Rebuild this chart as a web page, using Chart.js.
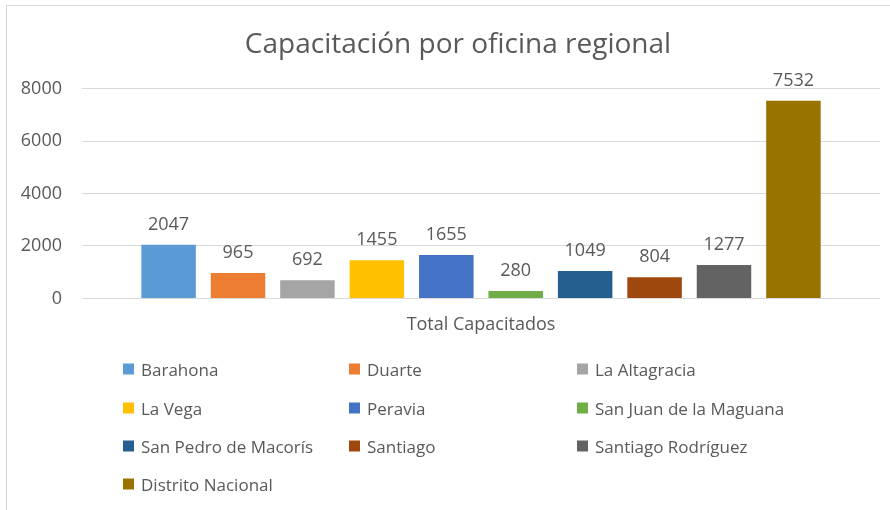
<!DOCTYPE html>
<html>
<head>
<meta charset="utf-8">
<script src="https://cdn.jsdelivr.net/npm/chart.js@4"></script>
<style>
  html, body { margin: 0; padding: 0; background: #fff; }
  #wrap { position: relative; width: 890px; height: 510px; overflow: hidden; }
  #frame { position: absolute; left: 6px; top: 5px; width: 900px; height: 520px; border: 1px solid #d9d9d9; box-sizing: border-box; }
  canvas { position: absolute; left: 0; top: 0; }
  #legend { position: absolute; left: 0; top: 0; width: 890px; height: 510px; pointer-events: none;
            font-family: "Open Sans", sans-serif; font-size: 17px; color: #595959; }
  .item { position: absolute; display: flex; align-items: center; white-space: nowrap; transform: translateY(-50%); }
  .box { width: 11px; height: 11px; margin-right: 7px; }
</style>
</head>
<body>
<div id="wrap">
  <div id="frame"></div>
  <canvas id="c" width="890" height="510"></canvas>
  <div id="legend"></div>
</div>
<script>
const categories = ["Total Capacitados"];
const seriesNames = ["Barahona", "Duarte", "La Altagracia", "La Vega", "Peravia",
  "San Juan de la Maguana", "San Pedro de Macorís", "Santiago", "Santiago Rodríguez", "Distrito Nacional"];
const seriesValues = [2047, 965, 692, 1455, 1655, 280, 1049, 804, 1277, 7532];
const seriesColors = ["#5B9BD5", "#ED7D31", "#A5A5A5", "#FFC000", "#4472C4",
  "#70AD47", "#255E91", "#9E480E", "#636363", "#997300"];
const yTicks = [0, 2000, 4000, 6000, 8000];

const textColor = "#595959";
const fontFamily = "'Open Sans', sans-serif";

const datasets = seriesNames.map((name, i) => ({
  label: name,
  data: [seriesValues[i]],
  backgroundColor: seriesColors[i],
  borderWidth: 0,
  categoryPercentage: 0.87,
  barPercentage: 0.785
}));

const valueLabels = {
  id: "valueLabels",
  afterDatasetsDraw(chart) {
    const ctx = chart.ctx;
    ctx.save();
    ctx.font = "18px " + fontFamily;
    ctx.fillStyle = textColor;
    ctx.textAlign = "center";
    ctx.textBaseline = "alphabetic";
    chart.data.datasets.forEach((ds, i) => {
      const meta = chart.getDatasetMeta(i);
      meta.data.forEach((bar, j) => {
        ctx.fillText(String(ds.data[j]), bar.x, bar.y - 15);
      });
    });
    ctx.restore();
  }
};

// shift the title block slightly right, as in the reference
const titleShift = {
  id: "titleShift",
  afterLayout(chart) {
    const t = chart.titleBlock;
    if (t) { t.left += 18; t.right += 18; }
  }
};

const chart = new Chart(document.getElementById("c"), {
  type: "bar",
  data: { labels: categories, datasets: datasets },
  options: {
    responsive: false,
    animation: false,
    layout: { padding: { left: 0, right: 10, top: 0, bottom: 158 } },
    plugins: {
      legend: { display: false },
      tooltip: { enabled: false },
      title: {
        display: true,
        text: "Capacitación por oficina regional",
        color: textColor,
        font: { family: fontFamily, size: 28, weight: "normal" },
        padding: { top: 28, bottom: 27 }
      }
    },
    scales: {
      x: {
        grid: { display: false, drawTicks: false },
        border: { display: false },
        ticks: { color: textColor, font: { family: fontFamily, size: 18 }, padding: 16 }
      },
      y: {
        min: 0, max: 8000,
        afterBuildTicks: (s) => { s.ticks = yTicks.map(v => ({ value: v })); },
        afterFit: (s) => { s.width = 82; },
        grid: { color: "#d9d9d9", lineWidth: 1, drawTicks: false },
        border: { display: false },
        ticks: { color: textColor, font: { family: fontFamily, size: 18 }, padding: 20,
                 callback: (v) => String(v) }
      }
    }
  },
  plugins: [valueLabels, titleShift]
});

// HTML legend built from chart datasets
const legendEl = document.getElementById("legend");
const colX = [123, 349, 577];
const rowY = [369, 408, 446, 484];
chart.data.datasets.forEach((ds, i) => {
  const item = document.createElement("div");
  item.className = "item";
  item.style.left = colX[i % 3] + "px";
  item.style.top = rowY[Math.floor(i / 3)] + "px";
  const box = document.createElement("span");
  box.className = "box";
  box.style.background = ds.backgroundColor;
  const txt = document.createElement("span");
  txt.textContent = ds.label;
  item.appendChild(box);
  item.appendChild(txt);
  legendEl.appendChild(item);
});
</script>
</body>
</html>
